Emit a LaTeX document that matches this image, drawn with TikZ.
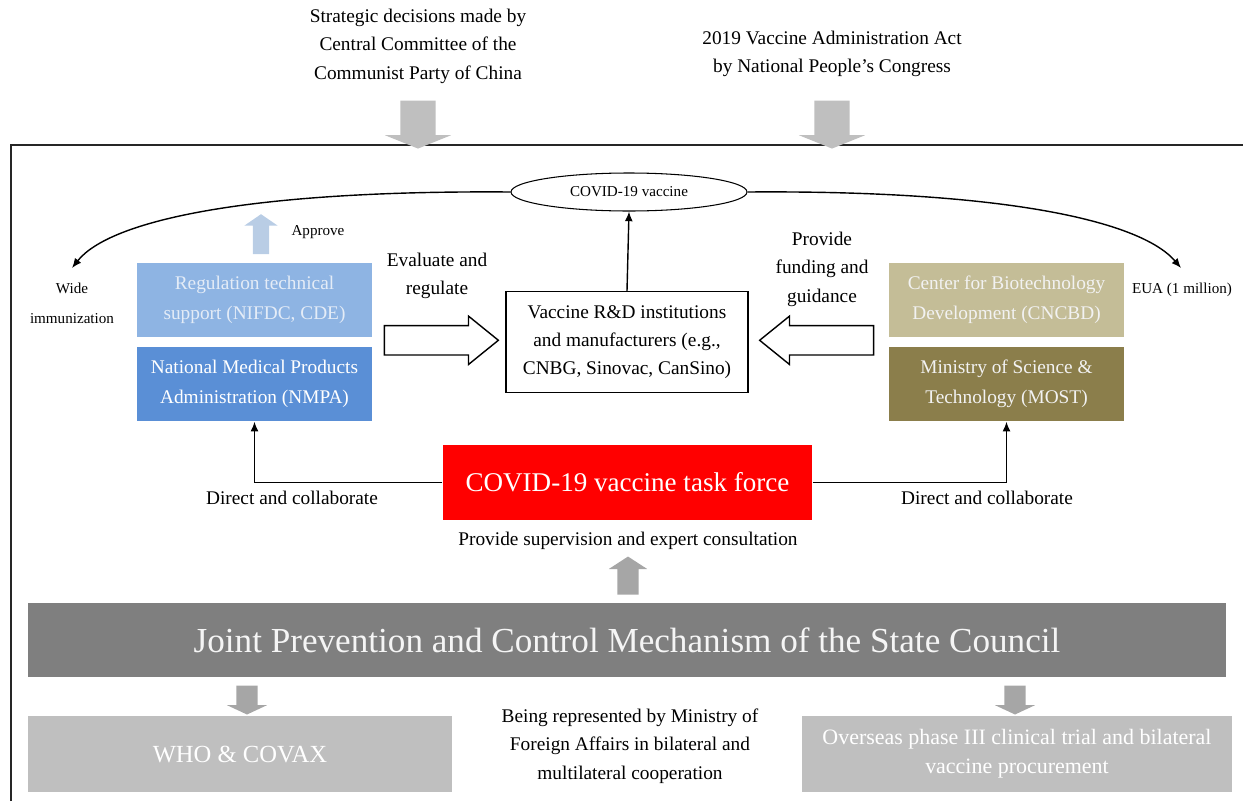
\documentclass[tikz,border=0pt]{standalone}
\usepackage{fontspec}
\setmainfont{Liberation Serif}
\usetikzlibrary{arrows.meta}
\usetikzlibrary{calc}
\usetikzlibrary{shapes.geometric}
\usetikzlibrary{shapes.arrows}
\definecolor{regblue}{HTML}{8EB4E3}
\definecolor{regtext}{HTML}{E4ECF7}
\definecolor{nmpablue}{HTML}{5A8FD6}
\definecolor{approveblue}{HTML}{B9CDE5}
\definecolor{cncbdtan}{HTML}{C4BD97}
\definecolor{mostolive}{HTML}{8B7E4B}
\definecolor{jointgrey}{HTML}{7F7F7F}
\definecolor{lowgrey}{HTML}{BFBFBF}
\definecolor{arrowgrey}{HTML}{A6A6A6}
\definecolor{framegrey}{HTML}{262626}

\begin{document}
\begin{tikzpicture}[x=0.02cm,y=-0.02cm,>={Latex[length=5.5pt,width=4.5pt]},line width=0.8pt,node distance=1.68cm,
	plain text/.style={align=center,font=\fontsize{11}{16.2}\selectfont},
	small text/.style={align=center,font=\fontsize{8.6}{17}\selectfont},
	org box/.style={minimum width=4.7cm,minimum height=1.48cm,inner sep=0pt,align=center,font=\fontsize{11}{16.8}\selectfont},
	block arrow/.style={single arrow,draw=none},
	top arrow/.style={block arrow,fill=lowgrey,inner sep=0.34cm,minimum height=0.96cm,minimum width=1.3cm,single arrow head extend=0.31cm,single arrow tip angle=136,shape border rotate=270},
	low arrow/.style={block arrow,fill=arrowgrey,inner sep=0.2cm,minimum height=0.58cm,minimum width=0.78cm,single arrow head extend=0.19cm,single arrow tip angle=130,shape border rotate=270},
	hollow arrow/.style={single arrow,draw,fill=white,line width=0.8pt,inner sep=0.28cm,minimum height=2.28cm,minimum width=0.94cm,single arrow head extend=0.19cm,single arrow tip angle=78,anchor=tail},
	grey box/.style={fill=lowgrey,text=white,inner sep=0pt,minimum height=1.52cm,align=center}]

	\useasboundingbox (0,0) rectangle (1243,801);
	\draw[framegrey,line width=1.1pt] (11,801) -- (11,145) -- (1243,145);

	\node[plain text] (SD) at (418,46) {Strategic decisions made by\\Central Committee of the\\Communist Party of China};
	\node[plain text] (VA) at (832,54) {2019 Vaccine Administration Act\\by National People's Congress};
	\node[top arrow] (A1) at (418,121) {};
	\node[top arrow] (A2) at (832,121) {};

	\node[ellipse,draw,line width=0.6pt,minimum width=4.72cm,minimum height=0.76cm,inner sep=0pt,font=\fontsize{8.6}{10}\selectfont] (V) at (629,192) {COVID-19 vaccine};
	\node[small text] (WI) at (72,303) {Wide\\immunization};
	\node[small text] (EUA) at (1182,290) {EUA (1 million)};
	\coordinate (e1) at (72,268);
	\coordinate (e2) at (1181,268);
	\draw[->] (V.west) .. controls (250,190) and (110,220) .. (e1);
	\draw[->] (V.east) .. controls (1000,190) and (1140,220) .. (e2);

	\node[org box,fill=regblue,text=regtext] (R) at (254.5,300) {Regulation technical\\support (NIFDC, CDE)};
	\node[org box,fill=nmpablue,text=white] (N) [below of = R] {National Medical Products\\Administration (NMPA)};
	\node[org box,fill=cncbdtan,text=white!95!black] (C) at (1006.5,300) {Center for Biotechnology\\Development (CNCBD)};
	\node[org box,fill=mostolive,text=white!95!black] (M) [below of = C] {Ministry of Science \&\\Technology (MOST)};

	\node[block arrow,fill=approveblue,inner sep=0.15cm,minimum height=0.8cm,minimum width=0.64cm,single arrow head extend=0.17cm,single arrow tip angle=111,shape border rotate=90] (AP) at (261,237) {};
	\node[small text] (APL) at (318,232) {Approve};

	\node[draw,line width=0.8pt,minimum width=4.84cm,minimum height=2.02cm,inner sep=0pt,align=center,font=\fontsize{11}{15.8}\selectfont] (RD) at (627,342) {Vaccine R\&D institutions\\and manufacturers (e.g.,\\CNBG, Sinovac, CanSino)};
	\draw[->] (RD.north) -- (V.south);
	\node[hollow arrow] (H1) at ($(N.north east)+(11,-6)$) {};
	\node[hollow arrow,shape border rotate=180] (H2) at ($(M.north west)+(-14,-6)$) {};
	\node[plain text] (EL) at (437,276) {Evaluate and\\regulate};
	\node[plain text] (FL) at (822,269) {Provide\\funding and\\guidance};

	\node[fill=red,text=white,minimum width=7.38cm,minimum height=1.5cm,inner sep=0pt,font=\fontsize{15.4}{18}\selectfont] (TF) at (627.5,482.5) {COVID-19 vaccine task force};
	\draw[->] (TF.west) -| (N.south);
	\draw[->] (TF.east) -| (M.south);
	\node[plain text] (DL) at (292,498) {Direct and collaborate};
	\node[plain text] (DR) at (987,498) {Direct and collaborate};
	\node[plain text] (SL) at (628,541) {Provide supervision and expert consultation};
	\node[block arrow,fill=arrowgrey,inner sep=0.2cm,minimum height=0.76cm,minimum width=0.74cm,single arrow head extend=0.17cm,single arrow tip angle=114,shape border rotate=90] (A3) at (628,579) {};

	\node[fill=jointgrey,text=white!96!black,minimum width=23.96cm,minimum height=1.48cm,inner sep=0pt,font=\fontsize{20}{24}\selectfont] (J) at (627,640) {Joint Prevention and Control Mechanism of the State Council};
	\node[low arrow] (A4) at (247,697.5) {};
	\node[low arrow] (A5) at (1015,697.5) {};
	\node[grey box,minimum width=8.48cm,font=\fontsize{14}{17}\selectfont] (W) at (240,754) {WHO \& COVAX};
	\node[grey box,minimum width=8.6cm,font=\fontsize{12.5}{16.4}\selectfont] (O) at (1017,754) {Overseas phase III clinical trial and bilateral\\vaccine procurement};
	\node[plain text] (FA) at (630,746) {Being represented by Ministry of\\Foreign Affairs in bilateral and\\multilateral cooperation};

\end{tikzpicture}
\end{document}
